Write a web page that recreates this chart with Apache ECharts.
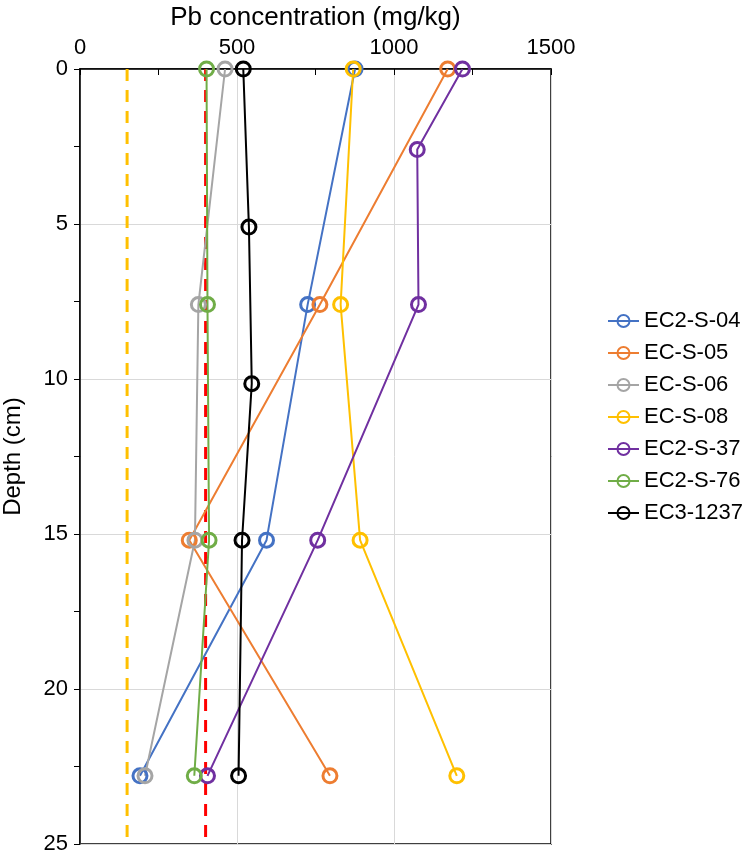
<!DOCTYPE html>
<html>
<head>
<meta charset="utf-8">
<script src="https://cdn.jsdelivr.net/npm/echarts@6/dist/echarts.min.js"></script>
<style>
  html, body { margin: 0; padding: 0; background: #fff; }
  #chart { width: 750px; height: 851px; }
</style>
</head>
<body>
<div id="chart"></div>
<script>
// depth (cm) of each sample
const depths = [0, 7.6, 15.2, 22.8];
const depths37 = [0, 2.6, 7.6, 15.2, 22.8];
const depths1237 = [0, 5.1, 10.15, 15.2, 22.8];

// Pb concentration (mg/kg)
const ec2s04 = [876, 725, 594, 191];
const ecs05 = [1171, 764, 348, 796];
const ecs06 = [462, 377, 366, 207];
const ecs08 = [870, 830, 892, 1200];
const ec2s37 = [1218, 1074, 1078, 757, 406];
const ec2s76 = [403, 406, 411, 364];
const ec31237 = [520, 538, 547, 516, 505];

// reference lines
const refYellowX = 150;
const refRedX = 400;
const refDepths = [0, 25];

const font = 'Liberation Sans, Arial, Helvetica, sans-serif';

function pairs(xs, ys) {
  return xs.map((v, i) => [v, ys[i]]);
}

function sampleSeries(name, color, xs, ys) {
  return {
    name: name,
    type: 'line',
    data: pairs(xs, ys),
    symbol: 'circle',
    symbolSize: 14,
    lineStyle: { color: color, width: 2 },
    itemStyle: { color: 'rgba(255,255,255,0)', borderColor: color, borderWidth: 3 },
    z: 3
  };
}

function refSeries(x, color) {
  return {
    type: 'line',
    data: refDepths.map(d => [x, d]),
    symbol: 'none',
    silent: true,
    lineStyle: { color: color, width: 3, type: [12, 9] },
    z: 2
  };
}

const myChart = echarts.init(document.getElementById('chart'));
let option = {
  animation: false,
  textStyle: { fontFamily: font },
  grid: {
    left: 80, right: 199, top: 69, bottom: 7,
    outerBoundsMode: 'none',
    containLabel: false,
    show: true, borderColor: '#000', borderWidth: 1.5
  },
  legend: {
    orient: 'vertical',
    left: 602, top: 305,
    itemWidth: 31, itemHeight: 15, itemGap: 10,
    textStyle: { fontSize: 22, color: '#000', fontFamily: font },
    data: ['EC2-S-04', 'EC-S-05', 'EC-S-06', 'EC-S-08', 'EC2-S-37', 'EC2-S-76', 'EC3-1237']
  },
  xAxis: {
    type: 'value',
    position: 'top',
    min: 0, max: 1500, interval: 500,
    name: 'Pb concentration (mg/kg)',
    nameLocation: 'middle',
    nameGap: 38,
    nameTextStyle: { fontSize: 26, color: '#000' },
    axisLine: { show: true, lineStyle: { color: '#000', width: 1.5 } },
    axisTick: { show: true, inside: true, length: 6, lineStyle: { color: '#000' } },
    minorTick: { show: true, splitNumber: 2, length: 6, lineStyle: { color: '#000' } },
    axisLabel: { fontSize: 22, color: '#000', margin: 10, formatter: v => String(v) },
    splitLine: { show: true, lineStyle: { color: '#d9d9d9', width: 1 } }
  },
  yAxis: {
    type: 'value',
    inverse: true,
    min: 0, max: 25, interval: 5,
    name: 'Depth (cm)',
    nameLocation: 'middle',
    nameGap: 55,
    nameTextStyle: { fontSize: 24, color: '#000' },
    axisLine: { show: true, lineStyle: { color: '#000', width: 1.5 } },
    axisTick: { show: true, length: 6, lineStyle: { color: '#000' } },
    minorTick: { show: true, splitNumber: 2, length: 6, lineStyle: { color: '#000' } },
    axisLabel: { fontSize: 22, color: '#000', margin: 12 },
    splitLine: { show: true, lineStyle: { color: '#d9d9d9', width: 1 } }
  },
  series: [
    refSeries(refYellowX, '#FFC000'),
    refSeries(refRedX, '#FF0000'),
    sampleSeries('EC2-S-04', '#4472C4', ec2s04, depths),
    sampleSeries('EC-S-05', '#ED7D31', ecs05, depths),
    sampleSeries('EC-S-06', '#A5A5A5', ecs06, depths),
    sampleSeries('EC-S-08', '#FFC000', ecs08, depths),
    sampleSeries('EC2-S-37', '#7030A0', ec2s37, depths37),
    sampleSeries('EC2-S-76', '#70AD47', ec2s76, depths),
    sampleSeries('EC3-1237', '#000000', ec31237, depths1237)
  ]
};
myChart.setOption(option);
</script>
</body>
</html>
